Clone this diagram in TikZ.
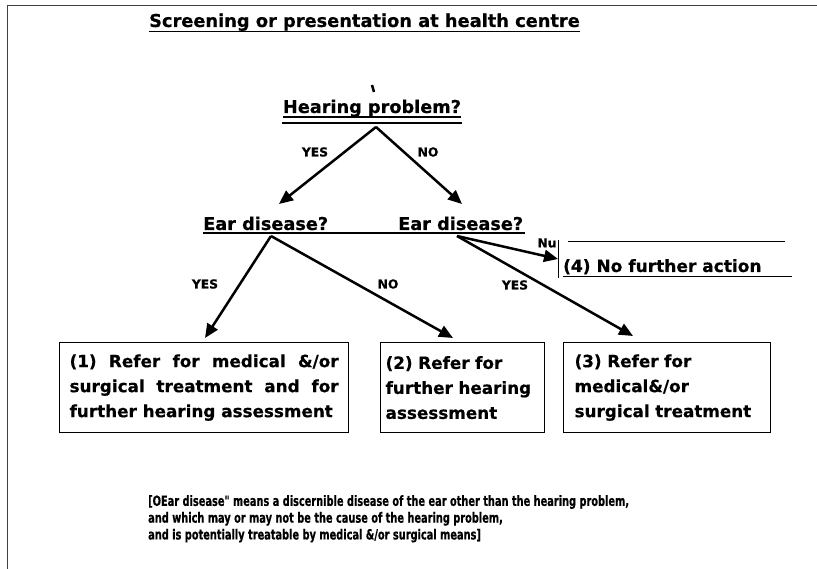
\documentclass[tikz,border=0pt]{standalone}
\usepackage{fontspec}
\setmainfont[BoldFeatures={FakeBold=0.5}]{DejaVu Sans}
\newfontfamily\narrowfont[FakeStretch=0.70,BoldFeatures={FakeBold=0.5}]{DejaVu Sans}
\usetikzlibrary{arrows.meta}
\newcommand\fsz[1]{\fontsize{#1}{#1}\selectfont\bfseries}
\tikzset{
 lbl/.style={inner sep=0pt, font=\fsz{12.3}},
 hd/.style={inner sep=0pt, font=\fsz{17.7}, anchor=base west},
 arr/.style={line width=2.5pt, -{Triangle[length=14pt,width=12pt]}},
 ul/.style={line width=1.2pt},
 box/.style={draw, line width=1.2pt, anchor=north west, minimum height=90pt,
   font=\fontsize{16.8}{25}\selectfont\bfseries, inner ysep=0pt}
}
\begin{document}
\begin{tikzpicture}[x=1pt,y=-1pt]
\useasboundingbox (0,0) rectangle (817,569);
% frame
\draw[line width=1pt, black!75] (7,569) -- (7,6) -- (817,6);
% title
\node[hd, anchor=base, font=\fsz{17.8}] (title) at (364.5,27) {Screening or presentation at health centre};
\draw[ul] ([yshift=-4.5pt]title.base west) -- ([yshift=-4.5pt]title.base east);
% tick
\draw[line width=2.5pt] (372,85) -- (374,92);
% hearing problem
\node[hd, anchor=base] (hp) at (372,113) {Hearing problem?};
\draw[ul] ([yshift=-4pt]hp.base west) -- ([yshift=-4pt]hp.base east);
\draw[line width=2pt] (282,123.5) -- (462,123.5);
% ear disease
\node[hd] (edl) at (203,230) {Ear disease?};
\node[hd] (edr) at (398,230) {Ear disease?};
\draw[ul] ([yshift=-3pt]edl.base west) -- ([xshift=2pt,yshift=-3pt]edr.base east);
% no further action
\node[inner sep=0pt, anchor=base west, font=\fsz{17}] (nfa) at (563,272) {(4) No further action};
\draw[line width=1pt] (558,240) -- (558,278);
\draw[line width=1pt] (568,242) -- (785,242);
\draw[line width=1pt] (563,277) -- (792,277);
% coordinates
\coordinate (a1) at (376,127);
\coordinate (t1) at (279,204);
\coordinate (t2) at (462,204);
\coordinate (a2) at (271,236);
\coordinate (t3) at (205,338);
\coordinate (t4) at (453,338);
\coordinate (a3) at (457,236);
\coordinate (t5) at (558,259);
\coordinate (t6) at (633,336);
% arrows
\draw[arr] (a1) -- (t1);
\draw[arr] (a1) -- (t2);
\draw[arr] (a2) -- (t3);
\draw[arr] (a2) -- (t4);
\draw[arr] (a3) -- (t5);
\draw[arr] (a3) -- (t6);
% labels
\node[lbl] (l1) at (315,152) {YES};
\node[lbl] (l2) at (428,152) {NO};
\node[lbl] (l3) at (205,284) {YES};
\node[lbl] (l4) at (388,284) {NO};
\node[lbl] (l5) at (547,243) {Nu};
\node[lbl] (l6) at (515,285) {YES};
% boxes
\node[box, text width=269pt, inner xsep=10pt, align=justify] (b1) at (59,342)
 {(1) Refer for medical \&/or\linebreak surgical treatment and for\linebreak further hearing assessment};
\node[box, text width=154pt, inner xsep=5pt, align=left] (b2) at (380,342)
 {(2) Refer for\\further hearing\\assessment};
\node[box, text width=185pt, inner xsep=11pt, align=left] (b3) at (563,342)
 {(3) Refer for\\medical\&/or\\surgical treatment};
% footnote
\node[inner sep=0pt, anchor=north west, align=left,
  font=\narrowfont\bfseries\fontsize{14}{16.8}\selectfont] (fn) at (148,495)
 {[OEar disease" means a discernible disease of the ear other than the hearing problem,\\
  and which may or may not be the cause of the hearing problem,\\
  and is potentially treatable by medical \&/or surgical means]};
\end{tikzpicture}
\end{document}
